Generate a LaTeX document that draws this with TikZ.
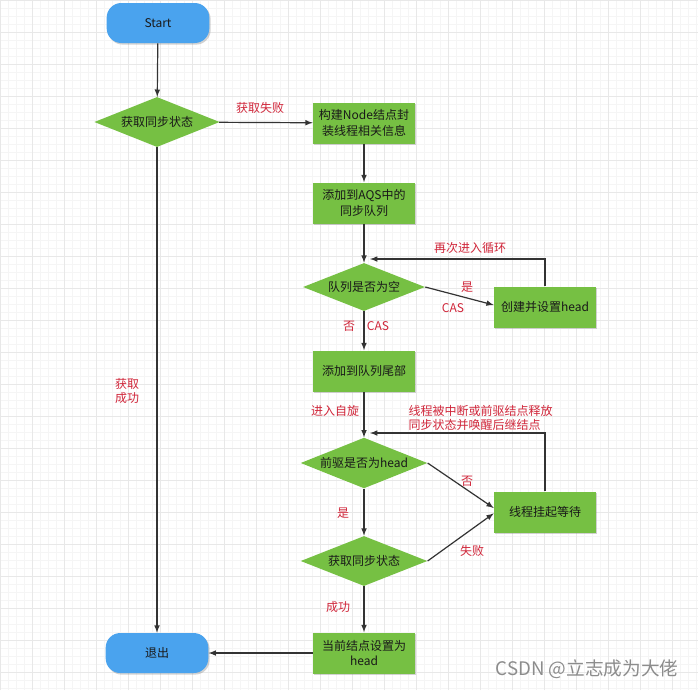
\documentclass[tikz,border=0pt]{standalone}
\usepackage{fontspec}
\setmainfont{Noto Sans CJK SC}
\usetikzlibrary{shapes.geometric,shadows}
\definecolor{flowgreen}{HTML}{76C043}
\definecolor{flowblue}{HTML}{4AA3EE}
\definecolor{labelred}{HTML}{D0263A}

\begin{document}
\begin{tikzpicture}[>=latex,x=0.75pt,y=-0.75pt,
	arr/.style={->,draw=black!80,line width=0.9pt},
	proc/.style={rectangle,fill=flowgreen,minimum width=76.5pt,minimum height=30.75pt,align=center,inner sep=1pt,
		drop shadow={shadow xshift=1pt,shadow yshift=-1.2pt,opacity=0.35}},
	term/.style={rectangle,rounded corners=11pt,fill=flowblue,minimum width=77pt,minimum height=30pt,
		drop shadow={shadow xshift=1pt,shadow yshift=-1.2pt,opacity=0.35}},
	decide/.style={diamond,aspect=2.5,fill=flowgreen,inner sep=0pt,minimum width=94pt,minimum height=37.5pt},
	lbl/.style={text=labelred,align=left}]
	\tikzstyle{every node}=[font=\fontsize{9}{11.5}\selectfont,text=black!90]
	\useasboundingbox (0,0) rectangle (698,690);
	\fill[white] (0,0) rectangle (698,690);
	\draw[black!4,line width=0.3pt,step=6pt] (0,0) grid (698,690);
	\draw[black!9,line width=0.4pt,step=24pt] (0,0) grid (698,690);

	\node[term] (start) at (158,23) {Start};
	\node[decide] (get1) at (157,122) {获取同步状态};
	\node[proc] (build) at (364,123) {构建Node结点封\\装线程相关信息};
	\node[proc] (addaqs) at (364,203) {添加到AQS中的\\同步队列};
	\node[decide,minimum width=91.5pt,minimum height=36pt] (empty) at (364,287) {队列是否为空};
	\node[proc] (sethead) at (545,307) {创建并设置head};
	\node[proc] (addtail) at (364,371) {添加到队列尾部};
	\node[decide,minimum width=95pt,minimum height=38pt] (prev) at (364,463) {前驱是否为head};
	\node[proc] (park) at (545,512) {线程挂起等待};
	\node[decide,minimum width=95pt] (get2) at (364,561) {获取同步状态};
	\node[proc] (cur) at (364,653) {当前结点设置为\\head};
	\node[term] (exit) at (157,653) {退出};
	\coordinate (loopa) at (370,259);
	\coordinate (loopb) at (370,433);

	\draw[arr] (start) -- (get1);
	\draw[arr] (get1) -- (build);
	\draw[arr] (build) -- (addaqs);
	\draw[arr] (addaqs) -- (empty);
	\draw[arr] (empty.east) -- ([yshift=1.5pt]sethead.west);
	\draw[arr] (sethead.north) |- (loopa);
	\draw[arr] (empty) -- (addtail);
	\draw[arr] (addtail) -- (prev);
	\draw[arr] (prev.east) -- ([yshift=3pt]park.west);
	\draw[arr] (get2.east) -- ([yshift=-1pt]park.west);
	\draw[arr] (park.north) |- (loopb);
	\draw[arr] (prev) -- (get2);
	\draw[arr] (get2) -- (cur);
	\draw[arr] (cur) -- (exit);
	\draw[arr] (get1) -- (exit);

	% labels on the connectors
	\node[lbl] (l1) at (260,108) {获取失败};
	\node[lbl] (l2) at (470,248) {再次进入循环};
	\node[lbl] (l3) at (467,287) {是};
	\node[lbl] (l4) at (453,308) {CAS};
	\node[lbl] (l5) at (349,326) {否};
	\node[lbl] (l6) at (378,326) {CAS};
	\node[lbl] (l7) at (335,411) {进入自旋};
	\node[lbl,anchor=west,font=\fontsize{9}{10.5}\selectfont] (l8) at (404,418) {线程被中断或前驱结点释放\\同步状态并唤醒后继结点};
	\node[lbl] (l9) at (467,481) {否};
	\node[lbl] (l10) at (343,513) {是};
	\node[lbl] (l11) at (472,551) {失败};
	\node[lbl] (l12) at (338,607) {成功};
	\node[lbl,font=\fontsize{9}{10.5}\selectfont] (l13) at (127,391) {获取\\成功};
	\node[text=black!45,font=\fontsize{14}{16}\selectfont] (mark) at (587,669) {CSDN @立志成为大佬};
\end{tikzpicture}
\end{document}
